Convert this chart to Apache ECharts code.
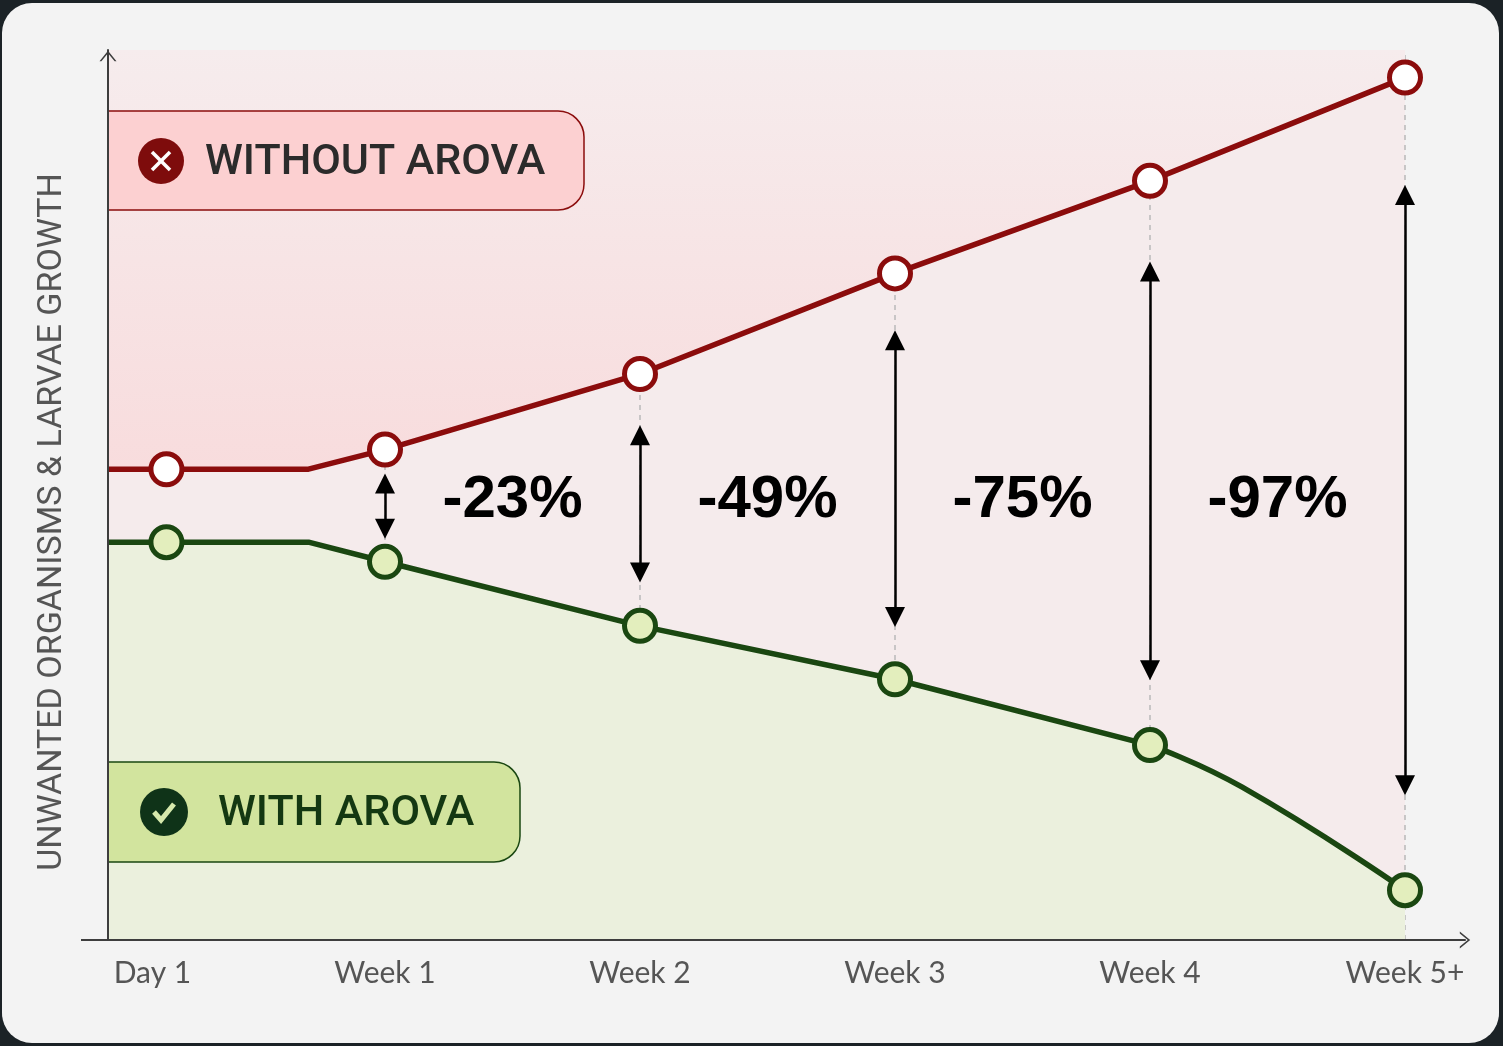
<!DOCTYPE html>
<html>
<head>
<meta charset="utf-8">
<title>Arova growth chart</title>
<script src="https://cdn.jsdelivr.net/npm/echarts@6/dist/echarts.min.js"></script>
<style>
  html, body { margin: 0; padding: 0; background: #1b2226; }
  #card {
    position: absolute; left: 2px; top: 3px; width: 1497px; height: 1040px;
    background: #f3f3f3; border-radius: 30px;
  }
  #miGrafica { position: absolute; left: 0; top: 0; width: 1503px; height: 1046px; }
</style>
</head>
<body>
<div id="card"></div>
<div id="miGrafica"></div>
<script>
// Datos (eje Y: 0 abajo, 100 arriba)
var categories = ['Day 1', 'Week 1', 'Week 2', 'Week 3', 'Week 4', 'Week 5+'];
var timeX = [1 / 7, 1, 2, 3, 4, 5];            // en semanas
var withoutArova = [52.9, 55.1, 63.6, 74.9, 85.3, 96.9];
var withArova = [44.7, 42.5, 35.3, 29.3, 21.9, 5.6];
var plateauEnd = 0.7;                            // donde termina el tramo plano
var withTailBend = [4.36, 17.2];                 // punto de la curva final (verde)
var gapLabels = ['-23%', '-49%', '-75%', '-97%'];
var gapLabelY = 49.4;
var gapArrowTop = [51.3, 56.7, 67.4, 75.1, 83.7];
var gapArrowBottom = [46.2, 41.3, 36.3, 30.3, 17.4];

var X_MIN = -0.0863;
var X_MAX = 5.2353;

var RED = '#8b0c0c';
var GREEN = '#1a4711';
var chevron = 'path://M0,11 L9,0 L18,11 L16,11 L9,2.6 L2,11 Z';

function lineData(values, count) {
    var d = [{ value: [X_MIN, values[0]], symbol: 'none' }];
    for (var i = 0; i < count; i++) {
        d.push([timeX[i], values[i]]);
        if (i === 0) d.push({ value: [plateauEnd, values[0]], symbol: 'none' });
    }
    return d;
}

var dom = document.getElementById('miGrafica');
var myChart = echarts.init(dom, null, { renderer: 'canvas' });

var axisLabelFont = 'Lato, "Noto Sans", sans-serif';

var option = {
    animation: false,
    grid: { left: 108, right: 38, top: 50, bottom: 106 },
    xAxis: {
        type: 'value',
        min: X_MIN,
        max: X_MAX,
        z: 20,
        splitLine: { show: false },
        axisTick: { show: false },
        axisLine: {
            onZero: false,
            symbol: ['none', chevron],
            symbolSize: [17, 11],
            lineStyle: { color: '#3d3d3d', width: 2 }
        },
        axisLabel: {
            customValues: timeX,
            margin: 18,
            fontSize: 30,
            color: '#555',
            fontFamily: axisLabelFont,
            formatter: function (v) {
                var i = timeX.findIndex(function (x) { return Math.abs(x - v) < 1e-6; });
                if (i < 0) return '';
                return i === 0 ? '{d|' + categories[i] + '}' : categories[i];
            },
            rich: {
                d: { fontSize: 30, color: '#555', fontFamily: axisLabelFont, padding: [0, 28, 0, 0] }
            }
        }
    },
    yAxis: {
        type: 'value',
        min: 0,
        max: 100,
        z: 20,
        name: 'UNWANTED ORGANISMS & LARVAE GROWTH',
        nameLocation: 'middle',
        nameRotate: 90,
        nameGap: 39,
        nameTextStyle: { fontSize: 34, color: '#555', fontFamily: 'Roboto', padding: [0, 54, 0, 0] },
        splitLine: { show: false },
        axisTick: { show: false },
        axisLabel: { show: false },
        axisLine: {
            show: true,
            onZero: false,
            symbol: ['none', chevron],
            symbolSize: [17, 11],
            symbolOffset: [0, -6],
            lineStyle: { color: '#3d3d3d', width: 2 }
        }
    },
    series: [
        {
            // Sin Arova
            name: 'Without Arova',
            type: 'line',
            z: 10,
            data: lineData(withoutArova, timeX.length),
            symbol: 'circle',
            symbolSize: 31,
            lineStyle: { color: RED, width: 5.5 },
            itemStyle: { color: '#ffffff', borderColor: RED, borderWidth: 5 },
            areaStyle: {
                origin: 'end',
                opacity: 1,
                color: new echarts.graphic.LinearGradient(0, 0, 0, 1, [
                    { offset: 0, color: '#f6eced' },
                    { offset: 1, color: '#f8dcdd' }
                ])
            },
            markArea: {
                silent: true,
                itemStyle: { color: '#f5ebec' },
                data: [[{ xAxis: X_MIN, yAxis: 0 }, { xAxis: timeX[timeX.length - 1], yAxis: 100 }]]
            },
            markLine: {
                silent: true,
                z: 6,
                symbol: ['triangle', 'triangle'],
                symbolSize: 20,
                label: { show: false },
                lineStyle: { color: '#000', width: 2.5, type: 'solid' },
                data: timeX.slice(1).map(function (x, i) {
                    return [{ coord: [x, gapArrowTop[i]] }, { coord: [x, gapArrowBottom[i]] }];
                })
            }
        },
        {
            // Con Arova
            name: 'With Arova',
            type: 'line',
            z: 10,
            data: lineData(withArova, 5),
            symbol: 'circle',
            symbolSize: 31,
            lineStyle: { color: GREEN, width: 5.5 },
            itemStyle: { color: '#e3eebd', borderColor: GREEN, borderWidth: 5 },
            areaStyle: { origin: 'start', opacity: 1, color: '#ebf0dd' },
            markLine: {
                silent: true,
                z: 3,
                symbol: 'none',
                label: { show: false },
                lineStyle: { color: '#b9b9b9', width: 1.5, type: [5, 5] },
                data: timeX.slice(1).map(function (x) { return { xAxis: x }; })
            }
        },
        {
            // tramo final curvo (Week 4 -> Week 5+)
            name: 'With Arova',
            type: 'line',
            z: 9,
            smooth: 0.5,
            data: [
                { value: [timeX[4], withArova[4]], symbol: 'none' },
                { value: withTailBend, symbol: 'none' },
                [timeX[5], withArova[5]]
            ],
            symbol: 'circle',
            symbolSize: 31,
            lineStyle: { color: GREEN, width: 5.5 },
            itemStyle: { color: '#e3eebd', borderColor: GREEN, borderWidth: 5 },
            areaStyle: { origin: 'start', opacity: 1, color: '#ebf0dd' }
        },
        {
            // porcentajes de reducción
            type: 'scatter',
            z: 12,
            symbolSize: 0,
            silent: true,
            itemStyle: { opacity: 1 },
            data: gapLabels.map(function (t, i) {
                return { value: [(timeX[i + 1] + timeX[i + 2]) / 2, gapLabelY], name: t };
            }),
            label: {
                show: true,
                position: 'inside',
                formatter: '{b}',
                fontSize: 60,
                fontWeight: 'bold',
                fontFamily: '"Liberation Sans", Arial, sans-serif',
                color: '#000',
                textBorderWidth: 0
            }
        }
    ],
    graphic: [
        { type: 'line', z: 20, shape: { x1: 81, y1: 940, x2: 108, y2: 940 }, style: { stroke: '#3d3d3d', lineWidth: 2 } },
        // Leyenda: sin Arova
        { type: 'rect', z: 15, shape: { x: 108, y: 111, width: 476, height: 99, r: [0, 26, 26, 0] },
          style: { fill: '#fcd0d1', stroke: RED, lineWidth: 1.5 } },
        { type: 'circle', z: 16, shape: { cx: 161, cy: 161, r: 23 }, style: { fill: '#7e0c0c' } },
        { type: 'line', z: 17, shape: { x1: 152, y1: 152, x2: 170, y2: 170 }, style: { stroke: '#fff', lineWidth: 3.5 } },
        { type: 'line', z: 17, shape: { x1: 170, y1: 152, x2: 152, y2: 170 }, style: { stroke: '#fff', lineWidth: 3.5 } },
        { type: 'text', z: 16, x: 205, y: 163,
          style: { text: 'WITHOUT AROVA', fontSize: 43, fontWeight: 500, fontFamily: 'Roboto', fill: '#2b2b2b', verticalAlign: 'middle' } },
        // Leyenda: con Arova
        { type: 'rect', z: 15, shape: { x: 108, y: 762, width: 412, height: 100, r: [0, 26, 26, 0] },
          style: { fill: '#d2e49e', stroke: GREEN, lineWidth: 1.5 } },
        { type: 'circle', z: 16, shape: { cx: 164, cy: 812, r: 24 }, style: { fill: '#0f3318' } },
        { type: 'polyline', z: 17, shape: { points: [[154, 812], [161, 820], [174, 804]] },
          style: { stroke: '#d6e9ac', lineWidth: 5, fill: null } },
        { type: 'text', z: 16, x: 218, y: 814,
          style: { text: 'WITH AROVA', fontSize: 43, fontWeight: 500, fontFamily: 'Roboto', fill: '#143812', verticalAlign: 'middle' } }
    ]
};

if (option && typeof option === 'object') {
    myChart.setOption(option);
}

window.addEventListener('resize', myChart.resize);
</script>
</body>
</html>
